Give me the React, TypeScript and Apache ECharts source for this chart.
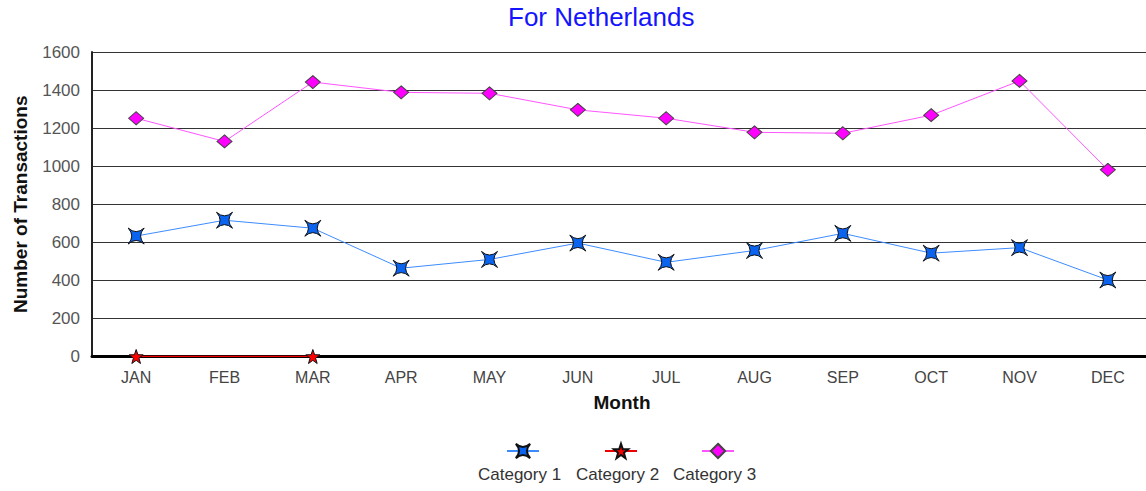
import React, { useEffect, useRef } from "react";
import * as echarts from "echarts";

const months = ["JAN", "FEB", "MAR", "APR", "MAY", "JUN", "JUL", "AUG", "SEP", "OCT", "NOV", "DEC"];
const category1 = [633, 716, 674, 464, 510, 596, 495, 557, 647, 543, 572, 402];
const category2 = [0, null, 0, null, null, null, null, null, null, null, null, null];
const category3 = [1252, 1130, 1442, 1388, 1383, 1296, 1252, 1178, 1173, 1268, 1448, 981];
const seriesNames = ["Category 1", "Category 2", "Category 3"];
const yTicks = { min: 0, max: 1600, interval: 200 };

const FONT = "'Liberation Sans', Arial, Helvetica, sans-serif";

const star4 = "path://M-10,-10 Q0,-1 10,-10 Q1,0 10,10 Q0,1 -10,10 Q-1,0 -10,-10 Z";
const star5 =
  "path://M0,-10 L2.35,-3.24 L9.51,-3.09 L3.8,1.24 L5.88,8.09 L0,4 L-5.88,8.09 L-3.8,1.24 L-9.51,-3.09 L-2.35,-3.24 Z";

const legendCenters = [522, 620, 717];

export default function App() {
  const ref = useRef<HTMLDivElement>(null);
  useEffect(() => {
    if (!ref.current) return;
    const chart = echarts.init(ref.current, null, { renderer: "svg" });
    const series = [
      {
        name: seriesNames[0],
        type: "line",
        data: category1,
        symbol: star4,
        symbolSize: 16,
        lineStyle: { color: "#3d8cff", width: 1 },
        itemStyle: { color: "#0a64f0", borderColor: "#111", borderWidth: 1 },
        z: 3,
      },
      {
        name: seriesNames[1],
        type: "line",
        data: category2,
        connectNulls: true,
        symbol: star5,
        symbolSize: 14,
        lineStyle: { color: "#ee0000", width: 1.5 },
        itemStyle: { color: "#ff0000", borderColor: "#111", borderWidth: 1 },
        z: 4,
      },
      {
        name: seriesNames[2],
        type: "line",
        data: category3,
        symbol: "diamond",
        symbolSize: [15, 13],
        lineStyle: { color: "#ff55ff", width: 1 },
        itemStyle: { color: "#ff00ff", borderColor: "#444", borderWidth: 1 },
        z: 3,
      },
    ];
    chart.setOption({
      animation: false,
      backgroundColor: "#ffffff",
      title: {
        text: "For Netherlands",
        left: 508,
        top: 4,
        padding: 0,
        textStyle: { color: "#1414ff", fontSize: 26, fontWeight: "normal", fontFamily: FONT },
      },
      grid: {
        left: 92,
        top: 52,
        width: 1060,
        bottom: 134.5,
        containLabel: false,
        outerBoundsMode: "none",
      },
      xAxis: {
        type: "category",
        data: months,
        boundaryGap: true,
        name: "Month",
        nameLocation: "middle",
        nameGap: 36,
        nameTextStyle: { color: "#111", fontSize: 19, fontWeight: "bold", fontFamily: FONT },
        axisLine: { show: true, lineStyle: { color: "#000", width: 3 } },
        axisTick: { show: false },
        axisLabel: { color: "#444", fontSize: 16, margin: 13, fontFamily: FONT },
        splitLine: { show: false },
      },
      yAxis: {
        type: "value",
        min: yTicks.min,
        max: yTicks.max,
        interval: yTicks.interval,
        name: "Number of Transactions",
        nameLocation: "middle",
        nameRotate: 90,
        nameGap: 62,
        nameTextStyle: { color: "#111", fontSize: 19, fontWeight: "bold", fontFamily: FONT },
        axisLine: { show: true, lineStyle: { color: "#222", width: 2 } },
        axisTick: { show: false },
        axisLabel: {
          color: "#555",
          fontSize: 17,
          margin: 12,
          fontFamily: FONT,
          formatter: (v: number) => String(v),
        },
        splitLine: { show: true, lineStyle: { color: "#333", width: 1 } },
      },
      legend: seriesNames.map((name, i) => ({
        data: [name],
        left: legendCenters[i] - 16,
        top: 442,
        padding: 0,
        itemWidth: 32,
        itemHeight: 18,
        itemGap: 0,
        selectedMode: false,
        formatter: () => "",
        textStyle: { fontSize: 1 },
      })),
      graphic: seriesNames.map((name, i) => ({
        type: "text",
        left: legendCenters[i] - 44,
        top: 466,
        style: { text: name, fill: "#333", fontSize: 17, fontFamily: FONT },
      })),
      series,
    });
    return () => chart.dispose();
  }, []);
  return (
    <div
      ref={ref}
      style={{ position: "fixed", left: 0, top: 0, width: 1146, height: 491, background: "#fff" }}
    />
  );
}
